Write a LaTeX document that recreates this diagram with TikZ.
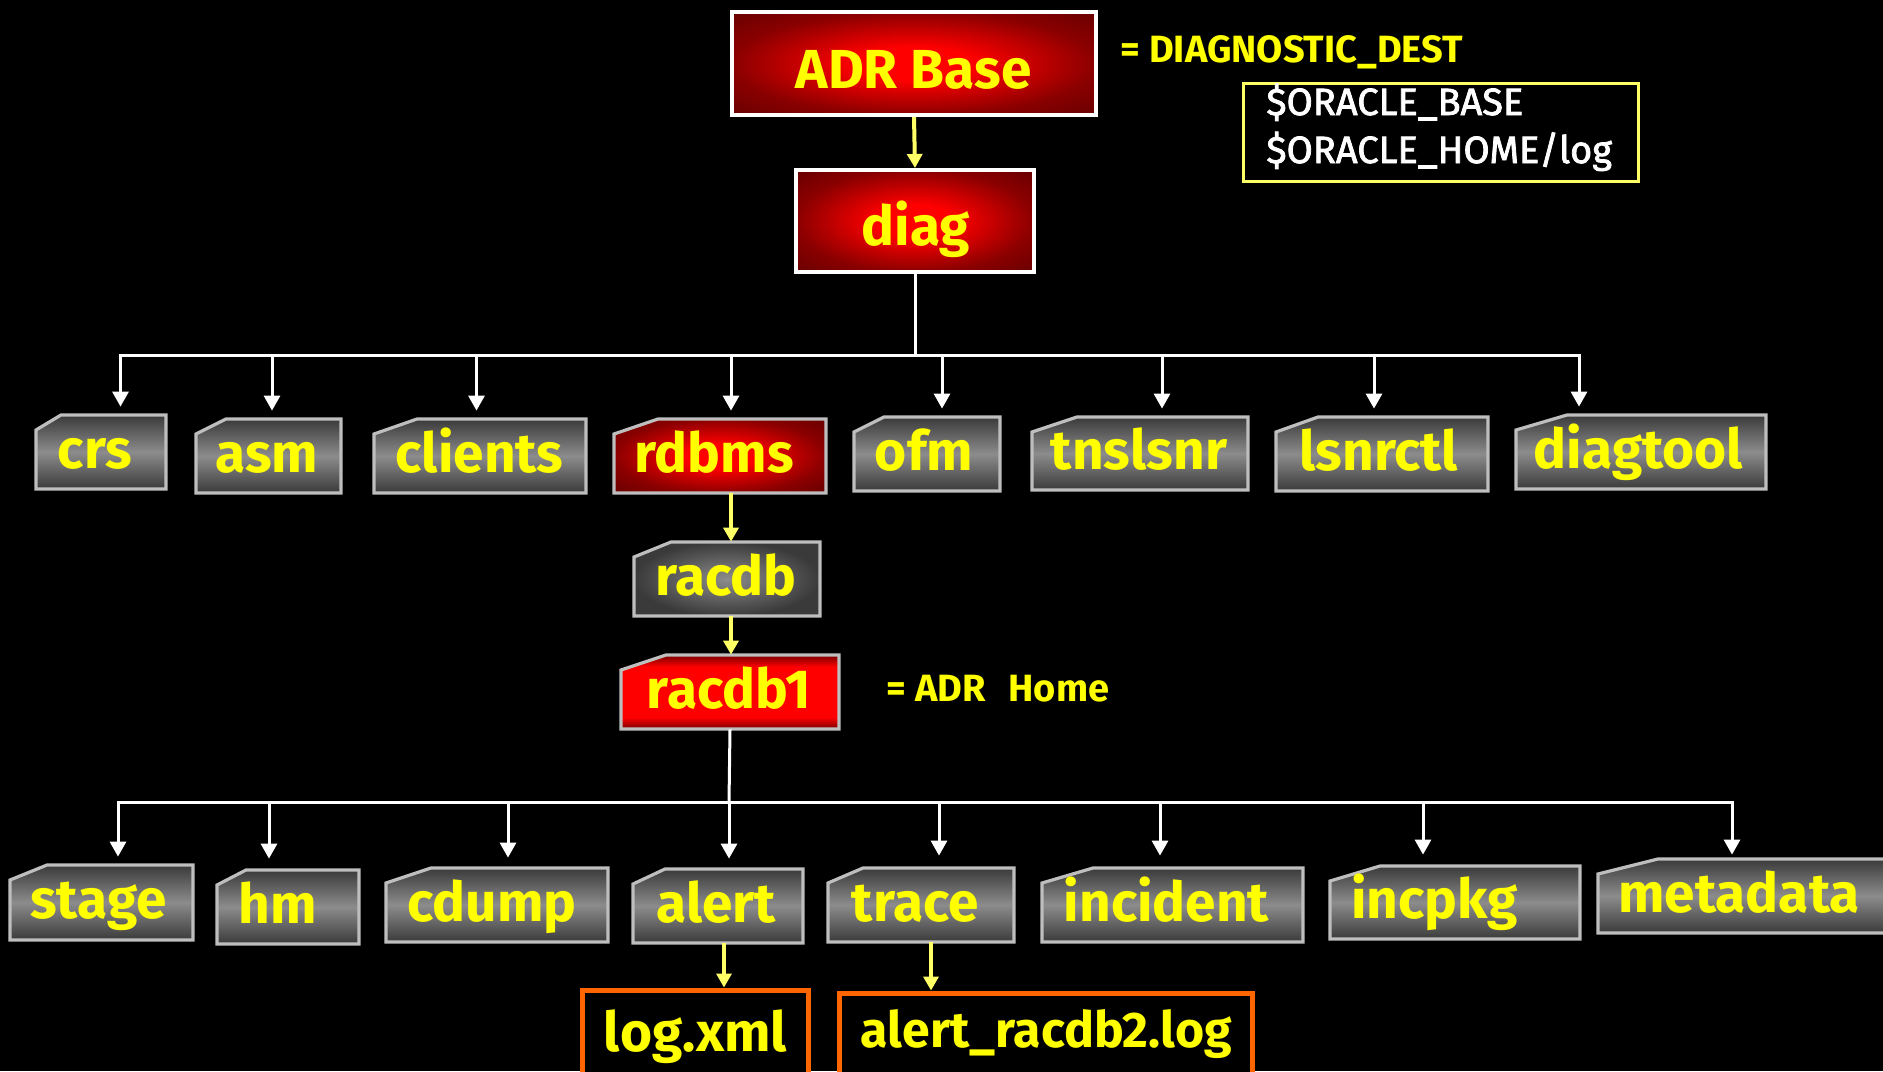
\documentclass[tikz,border=0pt]{standalone}
\usepackage{fontspec}
\setmainfont{Fira Sans}
\newfontfamily\envfont[FakeBold=2]{Fira Sans}
\usetikzlibrary{arrows.meta,fit}

\definecolor{ylw}{HTML}{FFFF00}
\definecolor{paleylw}{HTML}{FFFF66}
\definecolor{silver}{HTML}{BEBEBE}
\definecolor{orng}{HTML}{FF6600}
\definecolor{gdark}{HTML}{3A3A3A}
\definecolor{gmid}{HTML}{8C8C8C}
\definecolor{dred}{HTML}{780000}
\definecolor{edgered}{HTML}{8A0000}
\definecolor{cornred}{HTML}{660000}
\definecolor{bred}{HTML}{FF0000}

% bright red band with dark top and bottom edges
\pgfdeclareverticalshading{redband}{100bp}{color(0bp)=(dred); color(25bp)=(dred);
  color(33bp)=(bred); color(67bp)=(bred); color(75bp)=(dred); color(100bp)=(dred)}
% red glow: bright centre fading to dark red at the edges
\pgfdeclareradialshading{redglow}{\pgfpoint{0bp}{0bp}}{color(0bp)=(bred); color(8bp)=(bred);
  color(25bp)=(edgered); color(36bp)=(cornred); color(50bp)=(cornred)}

\tikzset{
  wline/.style={draw=white, line width=1.5pt},
  warrow/.style={wline, -{Triangle[width=8pt,length=7.5pt]}},
  yarrow/.style={draw=paleylw, line width=2pt, -{Triangle[width=7.5pt,length=7pt]}},
  greyfold/.style={draw=silver, line width=1.6pt, top color=gdark, bottom color=gdark, middle color=gmid},
  greyglow/.style={draw=silver, line width=1.6pt, inner color=gmid, outer color=gdark},
  redfold/.style={draw=silver, line width=1.6pt, shading=redglow},
  redbandfold/.style={draw=silver, line width=1.6pt, shading=redband},
  mainbox/.style={draw=white, line width=2pt, shading=redglow},
  spot/.style={inner sep=0pt, draw=none},
  flabel/.style={anchor=base, inner sep=0pt, text=ylw, font=\bfseries\fontsize{27.5}{30}\selectfont},
  note/.style={anchor=base west, inner sep=0pt, text=ylw, font=\bfseries\fontsize{19}{21}\selectfont},
  envtext/.style={anchor=base west, inner sep=0pt, text=white, font=\envfont\fontsize{19}{21}\selectfont},
  filebox/.style={draw=orng, line width=2.5pt, fill=black},
}

% folder: name, look, left, top, right, bottom, chamfer width, text x, text
\newcommand\fldr[9]{%
  \path[#2] (#3,#4+15) -- (#3+#7,#4) -- (#5,#4) -- (#5,#6) -- (#3,#6) -- cycle;
  \node[spot, fit={(#3,#4) (#5,#6)}] (#1) {};
  \node[flabel] (#1-t) at (#8,{(#4+#6)/2+16}) {#9};
}

\begin{document}
\begin{tikzpicture}[x=0.5pt,y=-0.5pt]
\useasboundingbox (0,0) rectangle (1883,1071);
\clip (0,0) rectangle (1883,1071);
\fill[black] (0,0) rectangle (1883,1071);

% top of the tree
\node[mainbox, minimum width=182pt, minimum height=51.5pt] (adr) at (914,63.5) {};
\node[flabel] (adr-t) at (913.5,88) {ADR Base};
\node[mainbox, minimum width=119pt, minimum height=51pt] (diag) at (915,221) {};
\node[flabel] (diag-t) at (915.7,245) {diag};
\draw[yarrow] (adr.south) -- (diag.north);

\node[note] (dest) at (1120,62) {= DIAGNOSTIC\_DEST};
\node[draw=paleylw, line width=1.5pt, minimum width=197.5pt, minimum height=49pt] (env) at (1441,132.5) {};
\node[envtext] (env-a) at (1266,115) {\$ORACLE\_BASE};
\node[envtext] (env-b) at (1266,163) {\$ORACLE\_HOME/log};

% first level folders
\fldr{crs}{greyfold}{36}{415}{166}{489}{25}{95}{crs}
\fldr{asm}{greyfold}{196}{419}{341}{493}{30}{267}{asm}
\fldr{clients}{greyfold}{374}{419}{586}{493}{43}{479.5}{clients}
\fldr{rdbms}{redfold}{614}{419}{826}{493}{44}{714}{rdbms}
\fldr{ofm}{greyfold}{854}{417}{1000}{491}{30}{924}{ofm}
\fldr{tnslsnr}{greyfold}{1032}{417}{1248}{490}{45}{1139}{tnslsnr}
\fldr{lsnrctl}{greyfold}{1276}{417}{1488}{491}{42}{1378.6}{lsnrctl}
\fldr{diagtool}{greyfold}{1516}{415}{1766}{489}{51}{1638.5}{diagtool}

\coordinate (bus1) at (915,355);
\coordinate (d1-crs) at (120.5,355);
\coordinate (d1-asm) at (272,355);
\coordinate (d1-clients) at (476.5,355);
\coordinate (d1-rdbms) at (731,355);
\coordinate (d1-ofm) at (942,355);
\coordinate (d1-tnslsnr) at (1162,355);
\coordinate (d1-lsnrctl) at (1374,355);
\coordinate (d1-diagtool) at (1579,355);
\draw[wline] (diag.south) -- (bus1);
\draw[wline, line cap=rect] (d1-crs) -- (d1-diagtool);
\foreach \n in {crs,asm,clients,rdbms,ofm,tnslsnr,lsnrctl,diagtool}
  \draw[warrow, shorten >=4pt] (d1-\n) -- (d1-\n |- \n.north);

% database home
\fldr{racdb}{greyglow}{634}{542}{820}{616}{37}{726}{racdb}
\fldr{racdb1}{redbandfold}{621}{655}{839}{729}{45}{729}{racdb1}
\coordinate (col-db) at (731,0);
\draw[yarrow] (col-db |- rdbms.south) -- (col-db |- racdb.north);
\draw[yarrow] (col-db |- racdb.south) -- (col-db |- racdb1.north);
\node[note] (home) at (886,701) {= ADR\hspace{0.6em}Home};

% second level folders
\fldr{stage}{greyfold}{10}{865}{193}{940}{37}{98.5}{stage}
\fldr{hm}{greyfold}{217}{870}{359}{944}{29}{278}{hm}
\fldr{cdump}{greyfold}{386}{868}{608}{942}{45}{492}{cdump}
\fldr{alert}{greyfold}{633}{869}{803}{943}{32}{716}{alert}
\fldr{trace}{greyfold}{828}{868}{1014}{942}{35}{915.5}{trace}
\fldr{incident}{greyfold}{1042}{868}{1303}{942}{51}{1166.5}{incident}
\fldr{incpkg}{greyfold}{1330}{866}{1580}{939}{50}{1434.5}{incpkg}
\fldr{metadata}{greyfold}{1598}{859}{1895}{933}{60}{1739}{metadata}

\coordinate (bus2) at (729,802);
\coordinate (d2-stage) at (118,802);
\coordinate (d2-hm) at (269,802);
\coordinate (d2-cdump) at (508,802);
\coordinate (d2-alert) at (729,802);
\coordinate (d2-trace) at (939,802);
\coordinate (d2-incident) at (1160,802);
\coordinate (d2-incpkg) at (1423,802);
\coordinate (d2-metadata) at (1732,802);
\draw[wline] (racdb1.south) -- (bus2);
\draw[wline, line cap=rect] (d2-stage) -- (d2-metadata);
\foreach \n/\s in {stage/4,hm/5.5,cdump/5,alert/5,trace/6,incident/6,incpkg/5.5,metadata/2}
  \draw[warrow, shorten >=\s pt] (d2-\n) -- (d2-\n |- \n.north);

% log files
\node[filebox, minimum width=113pt, minimum height=50pt] (logxml) at (695.5,1040) {};
\node[flabel] (logxml-t) at (695.5,1051) {log.xml};
\node[filebox, minimum width=206.5pt, minimum height=48.5pt] (alertlog) at (1046,1041.5) {};
\node[flabel, font=\bfseries\fontsize{25}{27}\selectfont] (alertlog-t) at (1046.5,1047) {alert\_racdb2.log};
\coordinate (col-alert) at (724,0);
\coordinate (col-trace) at (931,0);
\draw[yarrow] (col-alert |- alert.south) -- (col-alert |- logxml.north);
\draw[yarrow] (col-trace |- trace.south) -- (col-trace |- alertlog.north);
\end{tikzpicture}
\end{document}
